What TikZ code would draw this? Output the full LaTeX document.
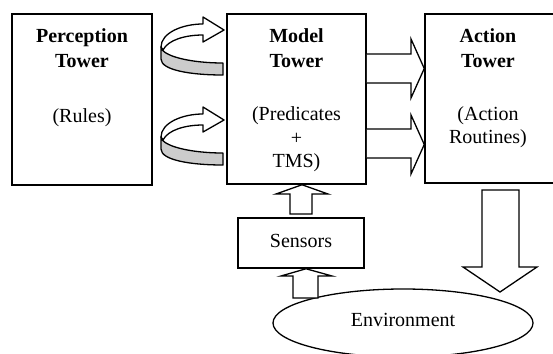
\documentclass[tikz,border=0pt]{standalone}
\usepackage{fontspec}
\setmainfont{Liberation Serif}
\usetikzlibrary{shapes.geometric,calc}
\begin{document}
\begin{tikzpicture}[x=1pt,y=-1pt,
  box/.style={draw,line width=1.5pt,inner sep=0pt,rectangle},
  lbl/.style={anchor=base,inner sep=0pt,font=\fontsize{20}{24}\selectfont},
  blbl/.style={lbl,font=\fontsize{20}{24}\selectfont\bfseries},
  blockarrow/.style={draw,line width=1.3pt,fill=white,line join=miter},
  ribbonfront/.style={draw,line width=1.3pt,fill=white,line join=round},
  ribbonback/.style={draw,line width=1.3pt,fill=black!20,line join=round}]
\useasboundingbox (0,0) rectangle (553,353);
% boxes
\node[box,minimum width=140pt,minimum height=171pt] (perc) at (82,99.5) {};
\node[box,minimum width=139pt,minimum height=170pt] (model) at (296.5,99) {};
\node[box,minimum width=130pt,minimum height=169pt] (action) at (490,98.5) {};
\node[box,minimum width=126pt,minimum height=50pt] (sensors) at (301,243) {};
\node[draw,line width=1.3pt,ellipse,inner sep=0pt,minimum width=260pt,minimum height=68pt] (env) at (403,323) {};
% texts
\node[blbl] (p1) at (82,43) {Perception};
\node[blbl] (p2) at (82,67) {Tower};
\node[lbl] (p3) at (82,122) {(Rules)};
\node[blbl] (m1) at (296.5,43) {Model};
\node[blbl] (m2) at (296.5,67) {Tower};
\node[lbl] (m3) at (296.5,120) {(Predicates};
\node[lbl] (m4) at (296.5,144) {+};
\node[lbl] (m5) at (296.5,167) {TMS)};
\node[blbl] (a1) at (488,43) {Action};
\node[blbl] (a2) at (488,67) {Tower};
\node[lbl] (a3) at (488,120) {(Action};
\node[lbl] (a4) at (488,143) {Routines)};
\node[lbl] (s1) at (301,247) {Sensors};
\node[lbl] (e1) at (403,326) {Environment};
% curved arrows from perception to model
\foreach \dy in {0,90}{
  \begin{scope}[yshift=-\dy pt]
    \path[ribbonfront] (161,47) .. controls (161,33) and (182,24) .. (203,24)
      -- (203,17) -- (224,30) -- (203,42) -- (203,35)
      .. controls (185,35) and (168,40) .. (163,50) -- cycle;
    \path[ribbonback] (161,47) -- (161,59) .. controls (161,70) and (190,75) .. (223,75)
      -- (223,63) .. controls (190,63) and (162,56) .. (161,47) -- cycle;
  \end{scope}
}
% model -> action block arrows
\path[blockarrow] (model.east |- {(0,54)}) -- (411,54) -- (411,39) -- (action.west |- {(0,68.5)})
  -- (411,98) -- (411,83) -- (model.east |- {(0,83)});
\path[blockarrow] (model.east |- {(0,129)}) -- (411,129) -- (411,115) -- (action.west |- {(0,144.5)})
  -- (411,174) -- (411,158) -- (model.east |- {(0,158)});
% sensors -> model
\path[blockarrow] (290,214) -- (290,194) -- (276,194) -- (model.south -| {(302,0)})
  -- (328,194) -- (312,194) -- (312,214) -- cycle;
% environment -> sensors
\path[blockarrow] (293,298) -- (293,276) -- (281,276) -- (sensors.south -| {(306,0)})
  -- (332,276) -- (318,276) -- (318,298) -- cycle;
% action -> environment
\path[blockarrow] (482,190) -- (482,267) -- (463,267) -- (500,292)
  -- (537,267) -- (519,267) -- (519,190) -- cycle;
\end{tikzpicture}
\end{document}
